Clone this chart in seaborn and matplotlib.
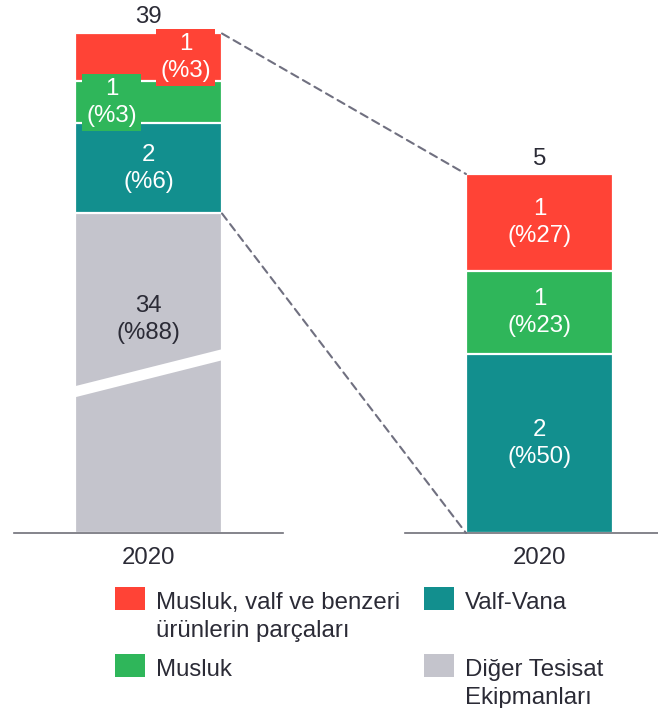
"""
Stacked bar with zoom-in: plumbing equipment, 2020
"""
import numpy as np
import matplotlib.pyplot as plt
import seaborn as sns
from matplotlib.patches import ConnectionPatch, Polygon, Rectangle

# ---- data (top segment first) ----
year = "2020"
categories = ["Musluk, valf ve benzeri\nürünlerin parçaları", "Musluk",
              "Valf-Vana", "Diğer Tesisat\nEkipmanları"]
colors = ["#ff4336", "#2fb65a", "#128f8e", "#c4c4cc"]

left_total = 39
left_counts = [1, 1, 2, 34]
left_pct_labels = [3, 3, 6, 88]
left_heights = [3.2, 2.8, 6.0, 88.0]   # share in %, as drawn

right_total = 5
right_counts = [1, 1, 2]
right_pct = [27, 23, 50]

GREY_SHOWN = 21.3   # grey segment is drawn compressed (broken bar)

# ---- style ----
sns.set_style("white")
plt.rcParams['font.family'] = ['Liberation Sans', 'DejaVu Sans']
TXT = "#2b2b36"
FS = 17.3
W, H = 658, 708
BAR_W = 147 / 269


def fig_rect(x, y, w, h):
    """pixel box (top-left origin) -> figure fraction rect"""
    return [x / W, 1 - (y + h) / H, w / W, h / H]


def stacked_bar(ax, heights, cols):
    # overlay cumulative totals, tallest first
    cum = np.cumsum(heights[::-1])[::-1]
    for h, c in zip(cum, cols):
        sns.barplot(x=[year], y=[h], color=c, saturation=1, width=BAR_W,
                    edgecolor="white", linewidth=1.6, errorbar=None, ax=ax)
    return cum


def style_axis(ax, ymax):
    ax.set_xlim(-0.5, 0.5)
    ax.set_ylim(0, ymax)
    for side in ["left", "right", "top"]:
        ax.spines[side].set_visible(False)
    ax.spines["bottom"].set_color("#6f6f78")
    ax.spines["bottom"].set_linewidth(1.2)
    ax.set_yticks([])
    ax.tick_params(axis="x", length=0, pad=10, labelsize=FS, labelcolor=TXT)
    ax.set_xlabel("")
    ax.set_ylabel("")


fig = plt.figure(figsize=(W / 100, H / 100), dpi=100)
axL = fig.add_axes(fig_rect(14, 0, 269, 533))
axR = fig.add_axes(fig_rect(405, 0, 269, 533))

# left bar (all equipment)
shown = left_heights[:3] + [GREY_SHOWN]
cumL = stacked_bar(axL, shown, colors)
style_axis(axL, 533 / 15)

# right bar (detail)
cumR = stacked_bar(axR, right_pct, colors[:3])
style_axis(axR, 533 / 3.59)

barL = axL.patches[0]
barR = axR.patches[0]
xl0, xl1 = barL.get_x(), barL.get_x() + barL.get_width()
xr0 = barR.get_x()

# break mark across the grey segment
y_a, y_b, t = GREY_SHOWN * 0.44, GREY_SHOWN * 0.56, 0.37
axL.add_patch(Polygon([(xl0 - 0.01, y_a - t), (xl1 + 0.01, y_b - t),
                       (xl1 + 0.01, y_b + t), (xl0 - 0.01, y_a + t)],
                      closed=True, facecolor="white", edgecolor="none", zorder=5))

# segment labels, left
lbl_dx = [0.137, -0.137, 0, 0]
for i in range(3):
    yc = cumL[i] - shown[i] / 2
    box = dict(facecolor=colors[i], edgecolor="none", pad=3) if lbl_dx[i] else None
    axL.text(lbl_dx[i], yc, f"{left_counts[i]}\n(%{left_pct_labels[i]})",
             ha="center", va="center", color="white", fontsize=FS,
             linespacing=1.3, bbox=box, zorder=6)
axL.text(0, GREY_SHOWN * 0.667, f"{left_counts[3]}\n(%{left_pct_labels[3]})",
         ha="center", va="center", color=TXT, fontsize=FS, linespacing=1.3, zorder=6)
axL.annotate(str(left_total), (0, cumL[0]), xytext=(0, 4), textcoords="offset points",
             ha="center", va="bottom", fontsize=FS, color=TXT)

# segment labels, right
for i in range(3):
    yc = cumR[i] - right_pct[i] / 2
    axR.text(0, yc, f"{right_counts[i]}\n(%{right_pct[i]})", ha="center", va="center",
             color="white", fontsize=FS, linespacing=1.3)
axR.annotate(str(right_total), (0, cumR[0]), xytext=(0, 3), textcoords="offset points",
             ha="center", va="bottom", fontsize=FS, color=TXT)

# dashed connectors
for ya, yb in [(cumL[0], cumR[0]), (GREY_SHOWN, 0)]:
    con = ConnectionPatch(xyA=(xl1, ya), coordsA=axL.transData,
                          xyB=(xr0, yb), coordsB=axR.transData,
                          color="#707080", lw=1.5, linestyle=(0, (3.8, 2.6)))
    fig.add_artist(con)

# legend (drawn by hand so multi-line rows line up)
legend_pos = [(115, 587), (115, 654), (424, 587), (424, 654)]
for (x, y), lab, c in zip(legend_pos, categories, colors):
    fig.add_artist(Rectangle(fig_rect(x, y, 30, 23)[:2], 30 / W, 23 / H,
                             transform=fig.transFigure, facecolor=c, edgecolor="none"))
    fig.text((x + 41) / W, 1 - (y + 5) / H, lab, ha="left", va="top",
             fontsize=FS, color=TXT, linespacing=1.35)

plt.savefig("out.png", dpi=100)
